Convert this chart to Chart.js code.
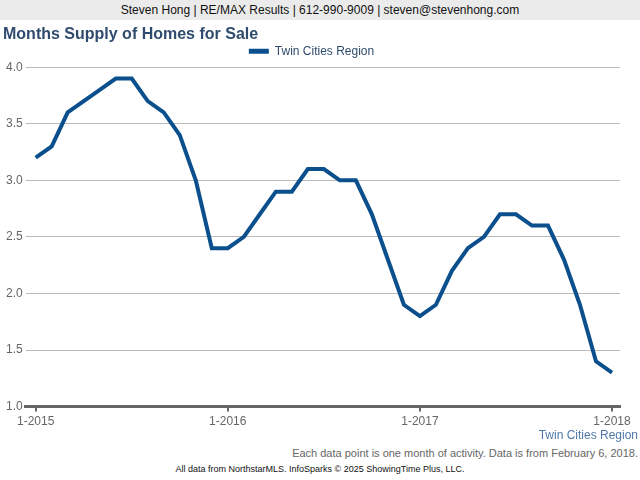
<!DOCTYPE html>
<html>
<head>
<meta charset="utf-8">
<script src="https://cdn.jsdelivr.net/npm/chart.js@4"></script>
<style>
  body { margin: 0; width: 640px; height: 480px; position: relative; overflow: hidden; background: #fff; font-family: "Liberation Sans", Arial, sans-serif; }
  #header { position: absolute; left: 0; top: 0; width: 640px; height: 20px; background: #ebebeb; color: #111; font-size: 12px; line-height: 20px; text-align: center; }
  #wrap { position: absolute; left: 0; top: 20px; width: 640px; height: 412px; }
  .foot { position: absolute; white-space: nowrap; }
  #region { right: 2px; top: 428px; font-size: 12px; color: #4f79a8; }
  #note { right: 2px; top: 447px; font-size: 11px; color: #666; }
  #source { left: 0; width: 640px; text-align: center; top: 464px; font-size: 9px; color: #111; }
</style>
</head>
<body>
<div id="header">Steven Hong | RE/MAX Results | 612-990-9009 | steven@stevenhong.com</div>
<div id="wrap"><canvas id="myChart" width="640" height="412"></canvas></div>
<div class="foot" id="region">Twin Cities Region</div>
<div class="foot" id="note">Each data point is one month of activity. Data is from February 6, 2018.</div>
<div class="foot" id="source">All data from NorthstarMLS. InfoSparks © 2025 ShowingTime Plus, LLC.</div>
<script>
// meses desde 1-2015 hasta 1-2018 (37 puntos)
const tickLabels = ["1-2015", "1-2016", "1-2017", "1-2018"];
const tickPos = [0, 12, 24, 36];
const supply = [
	3.2, 3.3, 3.6, 3.7, 3.8, 3.9, 3.9, 3.7, 3.6, 3.4, 3.0, 2.4,
	2.4, 2.5, 2.7, 2.9, 2.9, 3.1, 3.1, 3.0, 3.0, 2.7, 2.3, 1.9,
	1.8, 1.9, 2.2, 2.4, 2.5, 2.7, 2.7, 2.6, 2.6, 2.3, 1.9, 1.4,
	1.3
];
const seriesName = "Twin Cities Region";

const puntos = supply.map((v, i) => ({ x: i, y: v }));

const ctx = document.getElementById('myChart').getContext('2d');
const myChart = new Chart(ctx, {
	type: 'line',
	data: {
		datasets: [{
			label: seriesName,
			data: puntos,
			borderColor: '#0b4f8d',
			backgroundColor: '#0b4f8d',
			borderWidth: 4,
			pointRadius: 0,
			tension: 0,
			fill: false
		}]
	},
	options: {
		responsive: false,
		animation: false,
		layout: { padding: { left: 3, right: 20, top: 0, bottom: 0 } },
		plugins: {
			title: {
				display: true,
				text: 'Months Supply of Homes for Sale',
				align: 'start',
				color: '#2f4b6e',
				font: { family: 'Liberation Sans', size: 16, weight: 'bold' },
				padding: { top: 5, bottom: 0 }
			},
			legend: {
				labels: {
					boxWidth: 20,
					boxHeight: 5,
					padding: 1,
					color: '#2f4b6e',
					font: { family: 'Liberation Sans', size: 12 },
					// marcador plano, sin borde
					generateLabels: chart => Chart.defaults.plugins.legend.labels.generateLabels(chart)
						.map(l => Object.assign(l, { lineWidth: 0 }))
				}
			},
			tooltip: { enabled: false }
		},
		scales: {
			x: {
				type: 'linear',
				min: -0.625,
				max: 36.5,
				afterBuildTicks: axis => { axis.ticks = tickPos.map(v => ({ value: v })); },
				ticks: {
					color: '#666',
					font: { family: 'Liberation Sans', size: 12 },
					maxRotation: 0,
					autoSkip: false,
					callback: v => tickLabels[tickPos.indexOf(v)]
				},
				grid: { drawOnChartArea: false, drawTicks: true, tickLength: 5, color: '#666', lineWidth: 2 },
				border: { color: '#666', width: 3 }
			},
			y: {
				min: 1,
				max: 4,
				ticks: {
					stepSize: 0.5,
					color: '#666',
					padding: 3,
					font: { family: 'Liberation Sans', size: 12 },
					callback: v => v.toFixed(1)
				},
				grid: { color: '#bbb', drawTicks: false },
				border: { display: false }
			}
		}
	}
});
</script>
</body>
</html>
